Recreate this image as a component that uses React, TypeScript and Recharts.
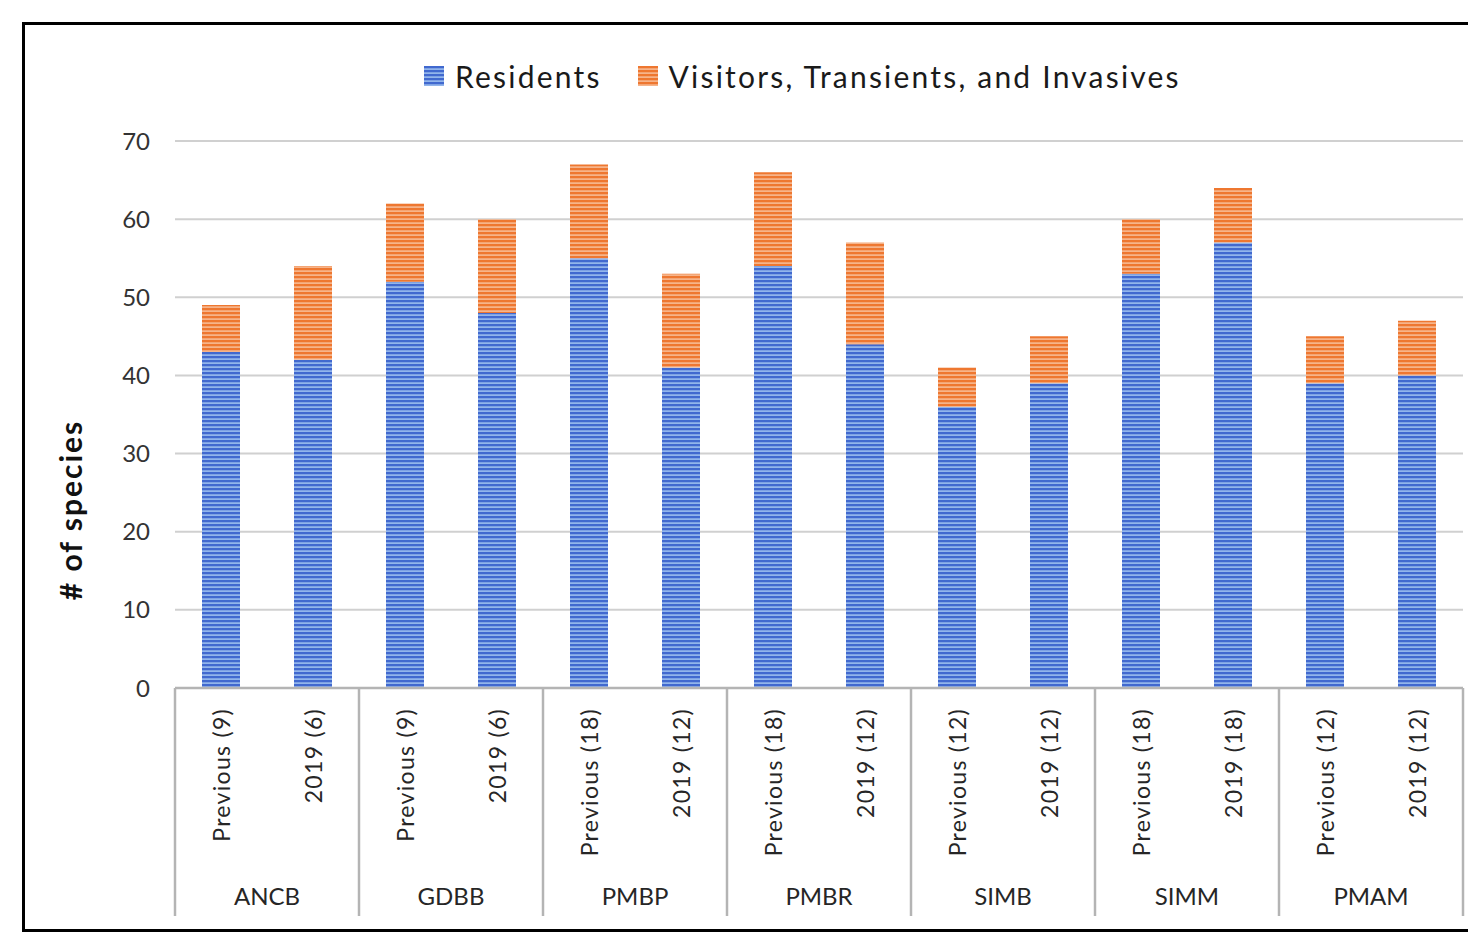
import React from 'react';
import { BarChart, Bar, XAxis, YAxis, CartesianGrid, Legend, Label } from 'recharts';

// Survey sites, two surveys per site
const sites = ['ANCB', 'GDBB', 'PMBP', 'PMBR', 'SIMB', 'SIMM', 'PMAM'];
const surveyLabels = [
  'Previous (9)', '2019 (6)',
  'Previous (9)', '2019 (6)',
  'Previous (18)', '2019 (12)',
  'Previous (18)', '2019 (12)',
  'Previous (12)', '2019 (12)',
  'Previous (18)', '2019 (18)',
  'Previous (12)', '2019 (12)',
];
// Species counts per survey
const residents = [43, 42, 52, 48, 55, 41, 54, 44, 36, 39, 53, 57, 39, 40];
const visitors = [6, 12, 10, 12, 12, 12, 12, 13, 5, 6, 7, 7, 6, 7];
const yTicks = [0, 10, 20, 30, 40, 50, 60, 70];

const series = [
  { key: 'residents', name: 'Residents', base: '#4169CF', stripe: '#A6C8F2' },
  { key: 'visitors', name: 'Visitors, Transients, and Invasives', base: '#EE7730', stripe: '#F8C3A0' },
];

const data = surveyLabels.map((label, i) => ({
  idx: i,
  label,
  site: sites[Math.floor(i / 2)],
  residents: residents[i],
  visitors: visitors[i],
}));

const FONT = 'Lato, "Open Sans", sans-serif';
const W = 1468;
const H = 944;
const Y_AXIS_W = 150;
const M = { top: 141, right: 5, bottom: 0, left: 175 - Y_AXIS_W };
const SEP = '#B4B4B4';

const StripeDefs = ({ prefix }: { prefix: string }) => (
  <defs>
    {series.map((s) => (
      <pattern key={s.key} id={`${prefix}-${s.key}`} patternUnits="userSpaceOnUse" width={8} height={4}>
        <rect x={0} y={0} width={8} height={4} fill={s.base} />
        <rect x={0} y={2.4} width={8} height={1.4} fill={s.stripe} />
      </pattern>
    ))}
  </defs>
);

const CategoryTick = (props: any) => {
  const { x, y, payload } = props;
  const i = payload.index ?? props.index;
  const d = data[i];
  const half = 46; // half of one category band
  const nodes: React.ReactNode[] = [];
  nodes.push(
    <text
      key="lab"
      transform={`translate(${x},${y + 20}) rotate(-90)`}
      textAnchor="end"
      dominantBaseline="central"
      fontFamily={FONT}
      fontSize={23}
      letterSpacing={1.3}
      fill="#262626"
    >
      {d.label}
    </text>
  );
  if (i % 2 === 0) {
    nodes.push(
      <line key="sepL" x1={x - half} x2={x - half} y1={y} y2={y + 228} stroke={SEP} strokeWidth={2.5} />
    );
    nodes.push(
      <text
        key="site"
        x={x + half}
        y={y + 217}
        textAnchor="middle"
        fontFamily={FONT}
        fontSize={24}
        fill="#262626"
      >
        {d.site}
      </text>
    );
  }
  if (i === data.length - 1) {
    nodes.push(
      <line key="sepR" x1={x + half} x2={x + half} y1={y} y2={y + 228} stroke={SEP} strokeWidth={2.5} />
    );
  }
  return <g>{nodes}</g>;
};

const Swatch = ({ s }: { s: typeof series[number] }) => (
  <svg width={20} height={20} style={{ display: 'block' }}>
    <StripeDefs prefix="lg" />
    <rect x={0} y={0} width={20} height={20} fill={`url(#lg-${s.key})`} />
  </svg>
);

const renderLegend = () => (
  <div style={{ display: 'flex', alignItems: 'center', fontFamily: FONT, fontSize: 30, color: '#1a1a1a' }}>
    {series.map((s, i) => (
      <div key={s.key} style={{ display: 'flex', alignItems: 'center', marginRight: i === 0 ? 36 : 0 }}>
        <Swatch s={s} />
        <span style={{ marginLeft: 11, letterSpacing: 2.2, whiteSpace: 'nowrap' }}>{s.name}</span>
      </div>
    ))}
  </div>
);

export default function App() {
  return (
    <div style={{ position: 'absolute', left: 0, top: 0, width: W, height: H, overflow: 'hidden', background: '#fff' }}>
      <div
        style={{
          position: 'absolute',
          left: 22,
          top: 22,
          width: W - 22,
          height: 910,
          boxSizing: 'border-box',
          borderLeft: '3px solid #000',
          borderTop: '3px solid #000',
          borderBottom: '3px solid #000',
        }}
      />
      <div style={{ position: 'absolute', left: 0, top: 0 }}>
        <BarChart width={W} height={H} data={data} margin={M} barSize={38}>
          <StripeDefs prefix="bar" />
          <CartesianGrid vertical={false} stroke="#D0D0D0" strokeWidth={2} />
          <Legend
            layout="horizontal"
            verticalAlign="middle"
            align="center"
            wrapperStyle={{ top: 58, left: 424, width: 'auto' }}
            content={renderLegend}
          />
          <XAxis
            dataKey="idx"
            type="category"
            interval={0}
            height={H - M.top - 547}
            tickSize={0}
            tickMargin={0}
            tickLine={false}
            axisLine={{ stroke: SEP, strokeWidth: 2.5 }}
            tick={<CategoryTick />}
          />
          <YAxis
            domain={[0, 70]}
            ticks={yTicks}
            interval={0}
            width={Y_AXIS_W}
            axisLine={false}
            tickLine={false}
            tickSize={0}
            tickMargin={25}
            tick={{ fontFamily: FONT, fontSize: 24, fill: '#333' }}
          >
            <Label
              content={() => (
                <text
                  x={70}
                  y={510}
                  transform="rotate(-90 70 510)"
                  textAnchor="middle"
                  dominantBaseline="central"
                  fontFamily={FONT}
                  fontWeight={700}
                  fontSize={30}
                  letterSpacing={2}
                  fill="#111"
                >
                  # of species
                </text>
              )}
            />
          </YAxis>
          {series.map((s) => (
            <Bar
              key={s.key}
              dataKey={s.key}
              name={s.name}
              stackId="total"
              fill={`url(#bar-${s.key})`}
              isAnimationActive={false}
            />
          ))}
        </BarChart>
      </div>
    </div>
  );
}
